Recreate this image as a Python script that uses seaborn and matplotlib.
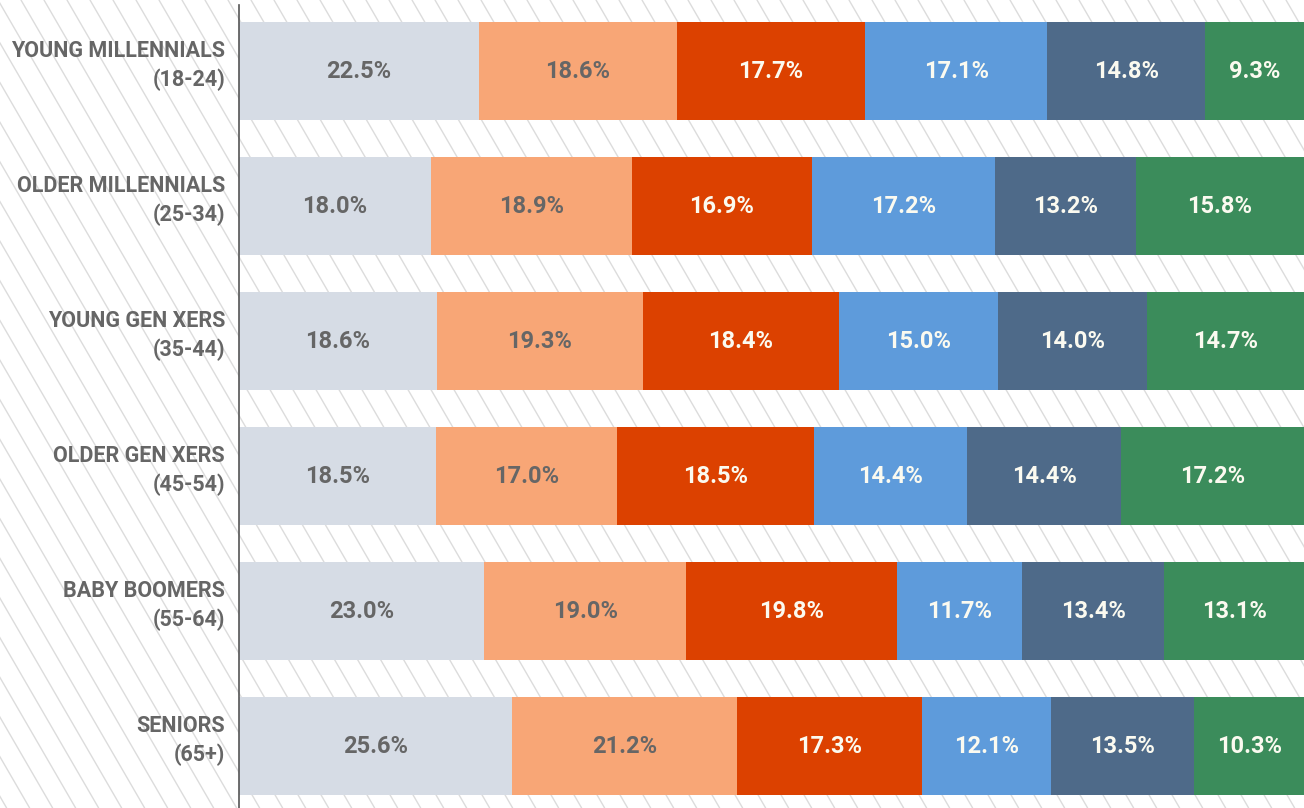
import numpy as np
import pandas as pd
import matplotlib
matplotlib.use("Agg")
import matplotlib.pyplot as plt
import seaborn as sns

# Data
groups = ["YOUNG MILLENNIALS\n(18-24)", "OLDER MILLENNIALS\n(25-34)", "YOUNG GEN XERS\n(35-44)",
          "OLDER GEN XERS\n(45-54)", "BABY BOOMERS\n(55-64)", "SENIORS\n(65+)"]
seg1 = [22.5, 18.0, 18.6, 18.5, 23.0, 25.6]
seg2 = [18.6, 18.9, 19.3, 17.0, 19.0, 21.2]
seg3 = [17.7, 16.9, 18.4, 18.5, 19.8, 17.3]
seg4 = [17.1, 17.2, 15.0, 14.4, 11.7, 12.1]
seg5 = [14.8, 13.2, 14.0, 14.4, 13.4, 13.5]
seg6 = [9.3, 15.8, 14.7, 17.2, 13.1, 10.3]

colors = ["#D6DCE5", "#F8A676", "#DC4100", "#5E9BDB", "#4E6A89", "#3B8C5B"]
text_colors = ["#666666", "#666666", "#FBFAF0", "#FBFAF0", "#FBFAF0", "#FBFAF0"]

sns.set_theme(style="white")
plt.rcParams['font.family'] = ['Roboto', 'DejaVu Sans']

df = pd.DataFrame({"group": groups, "s1": seg1, "s2": seg2, "s3": seg3,
                   "s4": seg4, "s5": seg5, "s6": seg6})
cols = ["s1", "s2", "s3", "s4", "s5", "s6"]
cum = df[cols].cumsum(axis=1)

fig = plt.figure(figsize=(13.04, 8.08), dpi=100)

# hatched background
bg = fig.add_axes([0, 0, 1, 1], zorder=0)
bg.set_xlim(0, 1304)
bg.set_ylim(808, 0)
ys = np.array([0, 808])
for x0 in np.arange(-600, 1320, 23):
    bg.plot(x0 + 0.58 * ys, ys, color="#DCDCDC", lw=1.0)
bg.axis("off")

ax = fig.add_axes([239 / 1304, 0, 1 - 239 / 1304, 1], zorder=1)
ax.patch.set_alpha(0)

# stacked bars: draw cumulative totals from last to first
for i in reversed(range(len(cols))):
    sns.barplot(x=cum[cols[i]], y=df["group"], color=colors[i], orient="h",
                width=0.72, saturation=1, linewidth=0, ax=ax)

# segment labels
for i, c in enumerate(cols):
    for j in range(len(df)):
        v = df[c].iloc[j]
        ax.text(cum[c].iloc[j] - v / 2, j, f"{v:.1f}%", ha="center", va="center",
                fontsize=17, fontweight="bold", color=text_colors[i])

# group labels (a bit above bar centre, like the original)
ax.set_yticklabels([])
for j, g in enumerate(groups):
    ax.annotate(g, xy=(0, j), xycoords=("axes fraction", "data"),
                xytext=(-10, 4), textcoords="offset points",
                ha="right", va="center", multialignment="right",
                fontsize=15.5, fontweight="bold", color="#666666", linespacing=1.4)

ax.set_xlim(0, 100)
ax.set_ylim(5.459, -0.526)
ax.set_xlabel("")
ax.set_ylabel("")
ax.set_xticks([])
for s in ["top", "right", "bottom"]:
    ax.spines[s].set_visible(False)
ax.spines["left"].set_color("#555555")
ax.spines["left"].set_linewidth(1.2)
ax.spines["left"].set_bounds(5.459, -0.49)
ax.tick_params(axis="y", length=0)

fig.savefig("out.png", dpi=100)
